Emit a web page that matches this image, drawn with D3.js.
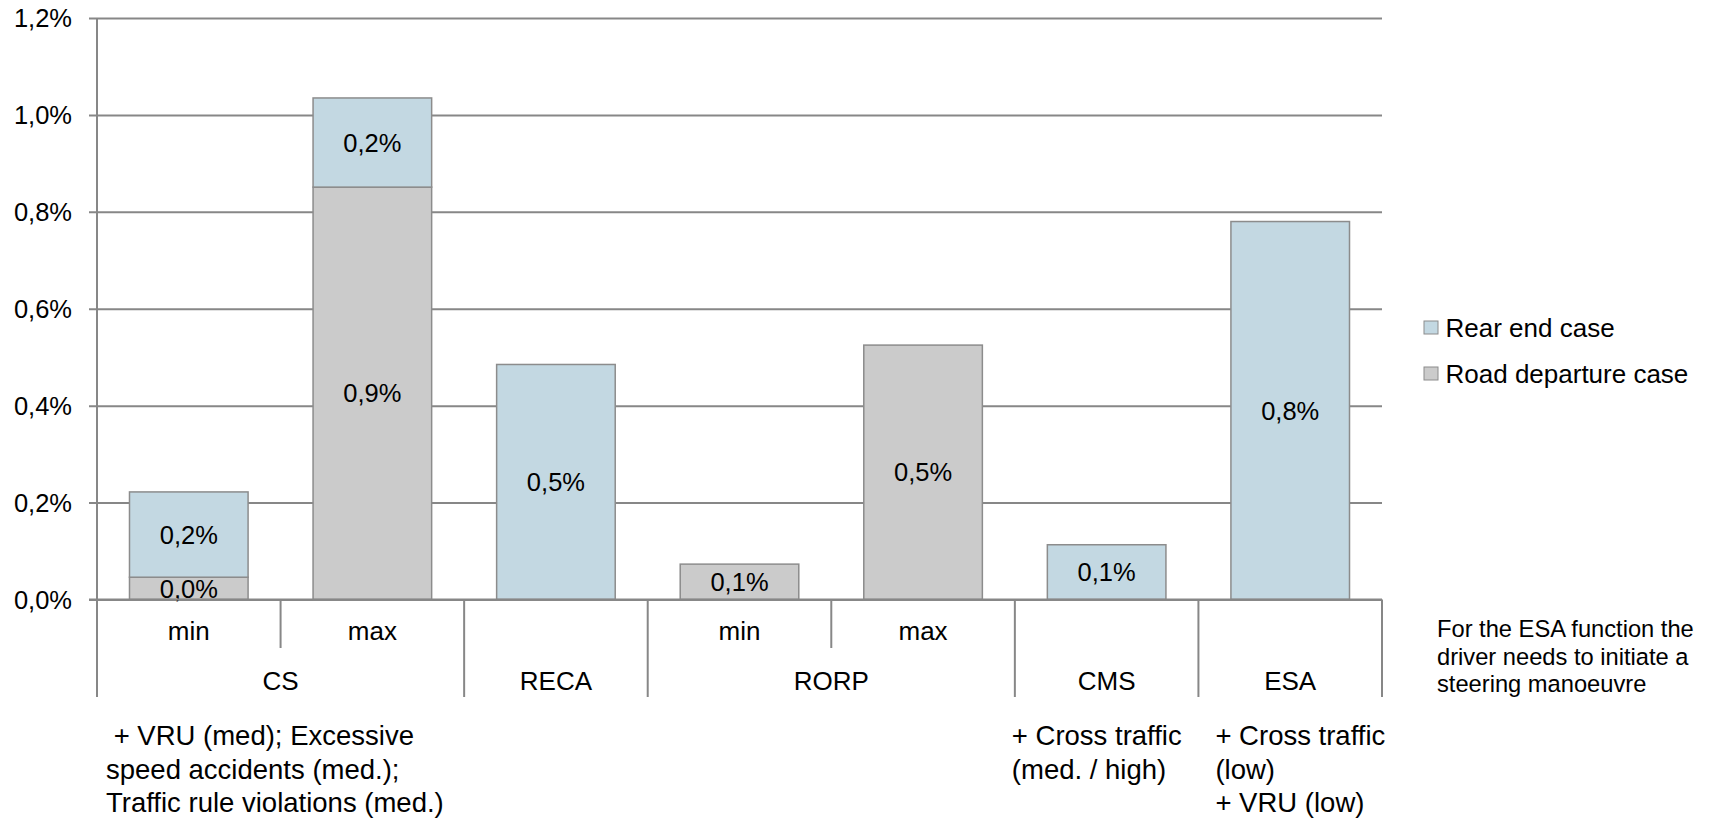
<!DOCTYPE html>
<html>
<head>
<meta charset="utf-8">
<script src="https://cdn.jsdelivr.net/npm/d3@7"></script>
<style>
  html, body { margin: 0; padding: 0; background: #fff; }
  svg { display: block; font-family: "Liberation Sans", Arial, sans-serif; }
</style>
</head>
<body>
<svg id="chart" width="1713" height="820"></svg>
<script>
// Share of accidents addressed per function, split by accident case (in %)
const groups        = ["CS", "CS", "RECA", "RORP", "RORP", "CMS", "ESA"];
const subLabels     = ["min", "max", "", "min", "max", "", ""];
const roadDeparture = [0.046, 0.851, 0, 0.073, 0.525, 0, 0];
const rearEnd       = [0.176, 0.184, 0.485, 0, 0, 0.113, 0.780];
const seriesNames   = ["Rear end case", "Road departure case"];
const yTicks        = [0, 0.2, 0.4, 0.6, 0.8, 1.0, 1.2];

// Notes printed under the category axis, per group
const groupNotes = [
  { group: "CS",  lines: [" + VRU (med); Excessive", "speed accidents (med.);", "Traffic rule violations (med.)"] },
  { group: "CMS", lines: ["+ Cross traffic", "(med. / high)"] },
  { group: "ESA", lines: ["+ Cross traffic", "(low)", "+ VRU (low)"] }
];
const sideNote = ["For the ESA function the", "driver needs to initiate a", "steering manoeuvre"];

const colors = { rear: "#c3d8e2", road: "#cbcbcb", edge: "#8c8c8c", grid: "#878787" };

const svg = d3.select("#chart");
const plot = { left: 97, right: 1382, top: 18, bottom: 599.5 };

const idx = d3.range(groups.length);
const x = d3.scaleBand().domain(idx).range([plot.left, plot.right])
  .paddingInner(0.354).paddingOuter(0.177);
const y = d3.scaleLinear().domain([0, 1.2]).range([plot.bottom, plot.top]);
const fmt = v => v.toFixed(1).replace(".", ",") + "%";

// Horizontal gridlines with y axis ticks
const yAxis = d3.axisLeft(y).tickValues(yTicks).tickFormat(fmt)
  .tickSize(-(plot.right - plot.left)).tickPadding(25);
const gy = svg.append("g").attr("transform", `translate(${plot.left},0)`).call(yAxis);
gy.select(".domain").remove();
gy.selectAll(".tick line").attr("stroke", colors.grid).attr("stroke-width", 2).attr("x1", -8);
gy.selectAll(".tick text").attr("fill", "#000").attr("dy", "0.34em").style("font-size", "25.5px")
  .style("font-family", "Liberation Sans, Arial, sans-serif");

// Stacked bars with value labels
const stackData = idx.map(i => ({ i, road: roadDeparture[i], rear: rearEnd[i] }));
const stack = d3.stack().keys(["road", "rear"])(stackData);
const fillFor = { road: colors.road, rear: colors.rear };

stack.forEach(layer => {
  const g = svg.append("g");
  layer.forEach(d => {
    const v = d[1] - d[0];
    if (v <= 0) return;
    const i = d.data.i;
    g.append("rect")
      .attr("x", x(i)).attr("width", x.bandwidth())
      .attr("y", y(d[1])).attr("height", y(d[0]) - y(d[1]))
      .attr("fill", fillFor[layer.key]).attr("stroke", colors.edge).attr("stroke-width", 1.5);
    g.append("text")
      .attr("x", x(i) + x.bandwidth() / 2)
      .attr("y", (y(d[0]) + y(d[1])) / 2)
      .attr("dy", "0.36em").attr("text-anchor", "middle")
      .style("font-size", "25.5px").text(fmt(v));
  });
});

// Y axis line and baseline
svg.append("line").attr("x1", plot.left).attr("x2", plot.left).attr("y1", plot.top).attr("y2", 697)
  .attr("stroke", colors.grid).attr("stroke-width", 2);
svg.append("line").attr("x1", plot.left - 8).attr("x2", plot.right).attr("y1", plot.bottom).attr("y2", plot.bottom)
  .attr("stroke", colors.grid).attr("stroke-width", 2);

// Two-level category axis: sub labels on the first row, group labels below
const step = x.step();
const edgeX = i => plot.left + i * step;
const subRowY = 631, groupRowY = 681, subBottom = 648, groupBottom = 697;

idx.forEach(i => {
  if (subLabels[i]) {
    svg.append("text").attr("x", x(i) + x.bandwidth() / 2).attr("y", subRowY)
      .attr("dy", "0.36em").attr("text-anchor", "middle").style("font-size", "26px").text(subLabels[i]);
  }
});
for (let k = 1; k <= groups.length; k++) {
  const sameGroup = k < groups.length && groups[k] === groups[k - 1];
  svg.append("line").attr("x1", edgeX(k)).attr("x2", edgeX(k))
    .attr("y1", plot.bottom).attr("y2", sameGroup ? subBottom : groupBottom)
    .attr("stroke", colors.grid).attr("stroke-width", 2);
}
const groupSpans = [];
idx.forEach(i => {
  const last = groupSpans[groupSpans.length - 1];
  if (last && last.name === groups[i]) last.end = i;
  else groupSpans.push({ name: groups[i], start: i, end: i });
});
groupSpans.forEach(s => {
  svg.append("text").attr("x", (edgeX(s.start) + edgeX(s.end + 1)) / 2).attr("y", groupRowY)
    .attr("dy", "0.36em").attr("text-anchor", "middle").style("font-size", "26px").text(s.name);
});

// Notes under groups
const noteOffset = { CS: 9, CMS: -3, ESA: 17 };
groupNotes.forEach(n => {
  const s = groupSpans.find(g => g.name === n.group);
  const tx = edgeX(s.start) + noteOffset[n.group];
  const t = svg.append("text").attr("x", tx).style("font-size", "27.5px")
    .style("white-space", "pre");
  n.lines.forEach((l, j) => {
    t.append("tspan").attr("x", tx).attr("y", 745 + j * 33.5).text(l);
  });
});

// Legend
const legend = svg.append("g").attr("transform", "translate(1424,321)");
seriesNames.forEach((name, j) => {
  const row = legend.append("g").attr("transform", `translate(0,${j * 46})`);
  row.append("rect").attr("width", 14).attr("height", 13)
    .attr("fill", j === 0 ? colors.rear : colors.road).attr("stroke", colors.edge).attr("stroke-width", 1);
  row.append("text").attr("x", 21.5).attr("y", 15.5).style("font-size", "26px").text(name);
});

// Side note
const note = svg.append("text").attr("x", 1437).style("font-size", "23.7px");
sideNote.forEach((l, j) => {
  note.append("tspan").attr("x", 1437).attr("y", 637 + j * 27.5).text(l);
});
</script>
</body>
</html>
